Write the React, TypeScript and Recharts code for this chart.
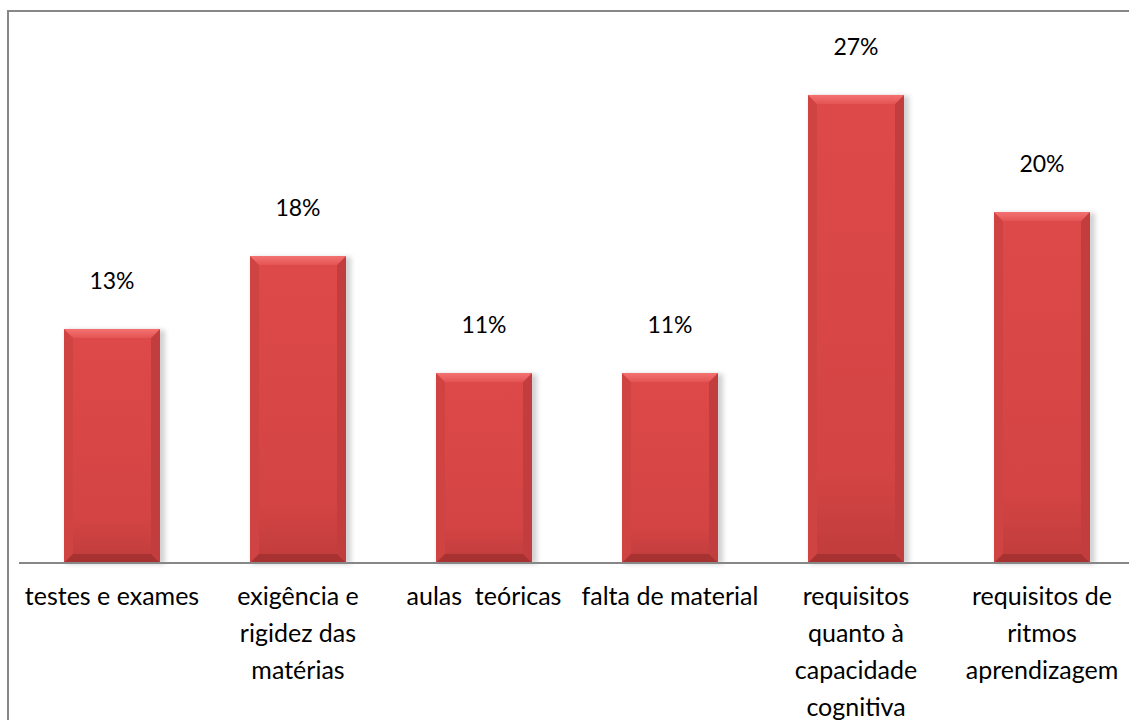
import React from 'react';
import { BarChart, Bar, XAxis, YAxis, LabelList } from 'recharts';

const categories = [
  'testes e exames',
  'exigência e\nrigidez das\nmatérias',
  'aulas  teóricas',
  'falta de material',
  'requisitos\nquanto à\ncapacidade\ncognitiva',
  'requisitos de\nritmos\naprendizagem',
];
const values = [13.45, 17.64, 10.92, 10.92, 26.9, 20.17];

const data = categories.map((c, i) => ({ category: c, value: values[i] }));

const FONT = 'Lato, "Open Sans", sans-serif';

function BevelBar(props: any) {
  const { x, y, width: w, height: h, index } = props;
  if (!h || h <= 0) return null;
  const b = 9;
  const gid = `barGrad${index}`;
  const tid = `topGrad${index}`;
  const sid = `shadow${index}`;
  return (
    <g>
      <defs>
        <linearGradient id={gid} x1="0" y1="0" x2="0" y2="1">
          <stop offset="0" stopColor="#DE4949" />
          <stop offset="0.8" stopColor="#D44444" />
          <stop offset="1" stopColor="#C03C3C" />
        </linearGradient>
        <linearGradient id={tid} x1="0" y1="0" x2="0" y2="1">
          <stop offset="0" stopColor="#F47272" />
          <stop offset="1" stopColor="#E45454" />
        </linearGradient>
        <filter id={sid} x="-20%" y="-5%" width="140%" height="110%">
          <feGaussianBlur stdDeviation="2.5" />
        </filter>
      </defs>
      <rect x={x + 2} y={y + 1} width={w + 3} height={h} fill="rgba(0,0,0,0.18)" filter={`url(#${sid})`} />
      <rect x={x} y={y} width={w} height={h} fill={`url(#${gid})`} />
      <polygon points={`${x},${y} ${x + b},${y + b} ${x + b},${y + h - b} ${x},${y + h}`} fill="#D04343" />
      <polygon points={`${x + w},${y} ${x + w - b},${y + b} ${x + w - b},${y + h - b} ${x + w},${y + h}`} fill="#C23D3D" />
      <polygon points={`${x},${y + h} ${x + b},${y + h - b} ${x + w - b},${y + h - b} ${x + w},${y + h}`} fill="#A83232" />
      <polygon points={`${x},${y} ${x + w},${y} ${x + w - b},${y + b} ${x + b},${y + b}`} fill={`url(#${tid})`} />
    </g>
  );
}

function CategoryTick(props: any) {
  const { x, y, payload } = props;
  const lines = String(payload.value).split('\n');
  return (
    <text x={x} y={y} textAnchor="middle" fontFamily={FONT} fontSize={25} fill="#000" style={{ whiteSpace: 'pre' }}>
      {lines.map((l, i) => (
        <tspan key={i} x={x} dy={i === 0 ? 42 : 37}>
          {l}
        </tspan>
      ))}
    </text>
  );
}

function ValueLabel(props: any) {
  const { x, y, width, value } = props;
  return (
    <text x={x + width / 2} y={y - 40} textAnchor="middle" fontFamily={FONT} fontSize={23} fill="#000">
      {`${Math.round(value)}%`}
    </text>
  );
}

export default function App() {
  return (
    <div style={{ position: 'fixed', left: 0, top: 0, width: 1129, height: 720, overflow: 'hidden', background: '#fff' }}>
      <div
        style={{
          position: 'absolute',
          left: 7,
          top: 10,
          width: 1300,
          height: 900,
          borderLeft: '2px solid #878787',
          borderTop: '2px solid #878787',
          boxSizing: 'border-box',
        }}
      />
      <div style={{ position: 'absolute', left: 0, top: 0 }}>
        <BarChart width={1140} height={720} data={data} margin={{ top: 41, right: 5, left: 19, bottom: 0 }} barSize={96}>
          <YAxis hide domain={[0, 30]} />
          <XAxis
            dataKey="category"
            interval={0}
            tickLine={false}
            tickSize={0}
            tickMargin={0}
            height={157}
            axisLine={{ stroke: '#878787', strokeWidth: 2 }}
            tick={<CategoryTick />}
          />
          <Bar dataKey="value" isAnimationActive={false} shape={<BevelBar />}>
            <LabelList dataKey="value" content={<ValueLabel />} />
          </Bar>
        </BarChart>
      </div>
    </div>
  );
}
